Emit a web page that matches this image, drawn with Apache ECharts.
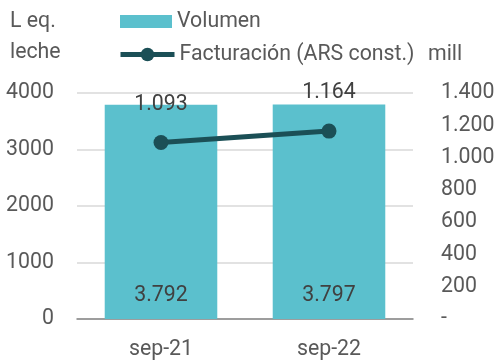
<!DOCTYPE html>
<html>
<head>
<meta charset="utf-8">
<script src="https://cdn.jsdelivr.net/npm/echarts@6/dist/echarts.min.js"></script>
<style>
  html, body { margin: 0; padding: 0; background: #fff; }
  #chart { width: 498px; height: 360px; }
</style>
</head>
<body>
<div id="chart"></div>
<script>
// Categories and values
const categories = ['sep-21', 'sep-22'];
const volumen = [3792, 3797];          // L eq. leche
const facturacion = [1093, 1164];      // mill ARS const.
const leftTicks = { min: 0, max: 4000, interval: 1000 };
const rightTicks = { min: 0, max: 1400, interval: 200 };

const FONT = 'Roboto';
const FS = 21.3;
const TXT = '#595959';
const BAR_COLOR = '#5BC0CD';
const LINE_COLOR = '#1B4F56';

// Number format with dot thousand separator
function fmtDot(v) {
  return String(Math.round(v)).replace(/\B(?=(\d{3})+(?!\d))/g, '.');
}

const legendText = { fontFamily: FONT, fontSize: FS, color: TXT, padding: [0, 0, 0, 0] };

const chart = echarts.init(document.getElementById('chart'), null, { renderer: 'canvas' });

chart.setOption({
  animation: false,
  textStyle: { fontFamily: FONT },
  grid: { left: 77, right: 85, top: 93, bottom: 41, containLabel: false },
  legend: [
    {
      left: 120, top: 11, padding: 0,
      itemWidth: 52, itemHeight: 13,
      textStyle: legendText,
      data: [{ name: 'Volumen', icon: 'rect' }]
    },
    {
      left: 118, top: 44, padding: 0,
      itemWidth: 54, itemHeight: 17,
      textStyle: legendText,
      data: [{
        name: 'Facturación (ARS const.)',
        lineStyle: { width: 5, color: LINE_COLOR },
        itemStyle: { color: LINE_COLOR }
      }]
    }
  ],
  graphic: [
    { type: 'text', left: 10, top: 11, style: { text: 'L eq.', font: FS + 'px Roboto', fill: TXT } },
    { type: 'text', left: 10, top: 42, style: { text: 'leche', font: FS + 'px Roboto', fill: TXT } },
    { type: 'text', left: 428, top: 44, style: { text: 'mill', font: FS + 'px Roboto', fill: TXT } }
  ],
  xAxis: {
    type: 'category',
    data: categories,
    axisTick: { show: false },
    axisLine: { show: true, lineStyle: { color: '#868686', width: 1.5 } },
    axisLabel: { fontFamily: FONT, fontSize: FS, color: TXT, margin: 20 }
  },
  yAxis: [
    {
      type: 'value',
      min: leftTicks.min, max: leftTicks.max, interval: leftTicks.interval,
      axisLine: { show: false },
      axisTick: { show: false },
      splitLine: { lineStyle: { color: '#d9d9d9', width: 1.5 } },
      axisLabel: { fontFamily: FONT, fontSize: FS, color: TXT, margin: 23, formatter: v => String(v) }
    },
    {
      type: 'value',
      min: rightTicks.min, max: rightTicks.max, interval: rightTicks.interval,
      position: 'right',
      axisLine: { show: false },
      axisTick: { show: false },
      splitLine: { show: false },
      axisLabel: {
        fontFamily: FONT, fontSize: FS, color: TXT, margin: 28,
        formatter: v => v === 0 ? '-' : fmtDot(v)
      }
    }
  ],
  series: [
    {
      name: 'Volumen',
      type: 'bar',
      yAxisIndex: 0,
      data: volumen,
      barWidth: '67%',
      itemStyle: { color: BAR_COLOR },
      label: {
        show: true,
        position: 'insideBottom',
        distance: 13,
        fontFamily: FONT, fontSize: FS, color: '#404040',
        formatter: p => fmtDot(p.value)
      }
    },
    {
      name: 'Facturación (ARS const.)',
      type: 'line',
      yAxisIndex: 1,
      data: facturacion,
      symbol: 'circle',
      symbolSize: 15,
      lineStyle: { color: LINE_COLOR, width: 5 },
      itemStyle: { color: LINE_COLOR },
      label: {
        show: true,
        position: 'top',
        distance: 20,
        fontFamily: FONT, fontSize: FS, color: '#404040',
        formatter: p => fmtDot(p.value)
      }
    }
  ]
});
</script>
</body>
</html>
